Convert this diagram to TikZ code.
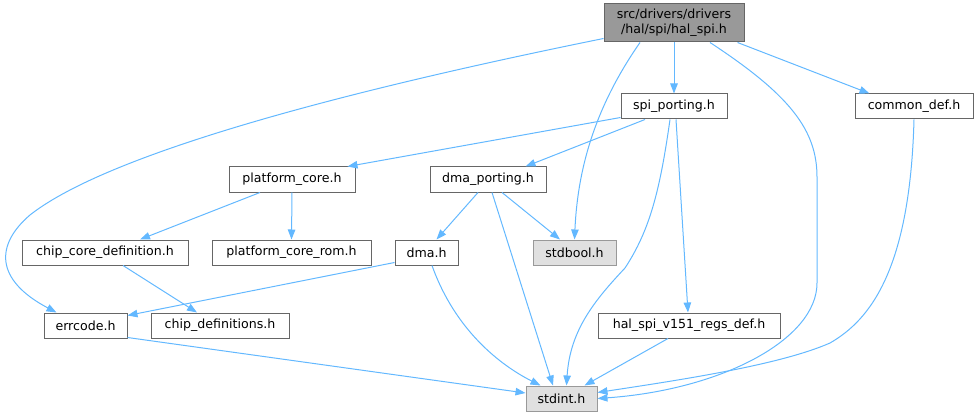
\documentclass[tikz,border=0pt]{standalone}
\usepackage{fontspec}
\setmainfont{DejaVu Sans}
\usetikzlibrary{arrows.meta}
\definecolor{edgec}{HTML}{63B8FF}
\definecolor{bordc}{HTML}{666666}
\definecolor{greyb}{HTML}{999999}
\definecolor{greyf}{HTML}{E0E0E0}
\tikzset{
  file/.style={draw=bordc, line width=1pt, fill=white, inner sep=0pt, minimum height=25pt, font=\fontsize{12.6}{15}\selectfont, text=black},
  sysfile/.style={file, draw=greyb, fill=greyf},
  rootfile/.style={file, fill=greyb, align=center, minimum height=38pt, minimum width=140pt},
  dep/.style={draw=edgec, line width=1pt, -{Triangle[length=10pt,width=7.5pt]}}
}
\begin{document}
\begin{tikzpicture}[x=1pt,y=-1pt]
\useasboundingbox (0,0) rectangle (980,417);
\node[rootfile] (root) at (674,23) {src/drivers/drivers\\/hal/spi/hal\_spi.h};
\node[file, minimum width=106pt] (spi) at (674,106.5) {spi\_porting.h};
\node[file, minimum width=118pt] (common) at (914,106.5) {common\_def.h};
\node[file, minimum width=126pt] (pcore) at (292,179.5) {platform\_core.h};
\node[file, minimum width=116pt] (dmap) at (488,179.5) {dma\_porting.h};
\node[file, minimum width=166pt] (ccd) at (105,252.5) {chip\_core\_definition.h};
\node[file, minimum width=159pt] (pcrom) at (291.5,252.5) {platform\_core\_rom.h};
\node[file, minimum width=63pt] (dma) at (426.5,252.5) {dma.h};
\node[sysfile, minimum width=83pt] (stdbool) at (574.5,252.5) {stdbool.h};
\node[file, minimum width=83pt] (errcode) at (85.5,325.5) {errcode.h};
\node[file, minimum width=138pt] (chipdef) at (220,325.5) {chip\_definitions.h};
\node[file, minimum width=182pt] (halreg) at (689,325.5) {hal\_spi\_v151\_regs\_def.h};
\node[sysfile, minimum width=71pt] (stdint) at (561.5,398.5) {stdint.h};

% root edges
\draw[dep] (root.south) -- (spi.north);
\draw[dep] ([xshift=-7pt]root.south east) -- ([xshift=15pt]common.north west);
\draw[dep] ([xshift=-34pt]root.south) .. controls (600,100) and (578,160) .. (stdbool.north);
\draw[dep] ([yshift=4pt]root.south west) .. controls (300,100) and (100,160) .. (30,215)
   .. controls (-5,245) and (-5,280) .. ([xshift=13pt]errcode.north west);
\draw[dep] ([xshift=36pt]root.south) .. controls (790,95) and (817,130) .. (817,177)
   -- (817,283) .. controls (817,340) and (720,390) .. (stdint.east);
% spi edges
\draw[dep] ([yshift=2pt]spi.south west) -- ([xshift=-8pt]pcore.north east);
\draw[dep] ([xshift=-29pt]spi.south) -- ([xshift=-21pt]dmap.north east);
\draw[dep] ([xshift=-4pt]spi.south) .. controls (660,190) and (650,230) .. (625,268)
   .. controls (595,300) and (570,330) .. ([xshift=5pt]stdint.north);
\draw[dep] ([xshift=2pt]spi.south) -- ([xshift=-1pt]halreg.north);
% common
\draw[dep] (common.south) .. controls (910,270) and (870,320) .. (830,343)
   .. controls (780,365) and (680,380) .. ([yshift=6pt]stdint.east);
% platform core
\draw[dep] ([xshift=-32pt]pcore.south) -- ([xshift=35pt]ccd.north);
\draw[dep] (pcore.south) -- (pcrom.north);
% dma porting
\draw[dep] ([xshift=-10pt]dmap.south) -- ([xshift=10pt]dma.north);
\draw[dep] ([xshift=14pt]dmap.south) -- ([xshift=-14.5pt]stdbool.north);
\draw[dep] ([xshift=4pt]dmap.south) -- ([xshift=-8.5pt]stdint.north);
% others
\draw[dep] ([xshift=18pt]ccd.south) -- ([xshift=-23pt]chipdef.north);
\draw[dep] ([yshift=3pt]dma.south west) -- ([yshift=-3pt]errcode.north east);
\draw[dep] ([xshift=5.5pt]dma.south) .. controls (455,330) and (500,365) .. ([xshift=-21pt]stdint.north);
\draw[dep] ([yshift=1pt]errcode.south east) -- ([yshift=5.5pt]stdint.west);
\draw[dep] ([xshift=-21pt]halreg.south) -- ([xshift=23pt]stdint.north);
\end{tikzpicture}
\end{document}
